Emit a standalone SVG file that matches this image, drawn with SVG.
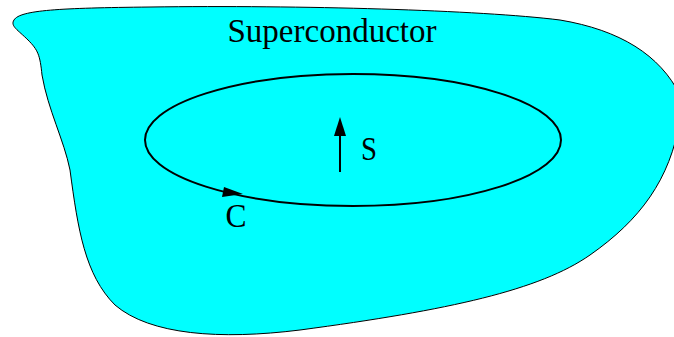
<svg xmlns="http://www.w3.org/2000/svg" width="674" height="337" viewBox="0 0 674 337">
<style>
.lbl{font-family:"Liberation Serif","Times New Roman",serif;fill:#000}
.ln{fill:none;stroke:#000;stroke-width:2}
</style>
<rect width="674" height="337" fill="#fff"/>
<g id="superconductor">
<path d="M14,20 C20,10 60,8 150,7 C300,5 480,10 560,20 C620,30 660,55 680,95 L680,120 C670,180 640,220 590,255 C540,290 450,310 300,330 C220,340 150,335 115,305 C85,275 78,230 70,170 C64,140 48,110 42,75 C40,55 38,50 28,40 C18,30 10,26 14,20 Z" fill="#00ffff" stroke="#000" stroke-width="1"/>
<text class="lbl" x="332" y="42" font-size="33" text-anchor="middle">Superconductor</text>
</g>
<g id="contour">
<ellipse cx="353" cy="140" rx="208" ry="66" class="ln"/>
<polygon points="243,194 224,187 222,197" fill="#000"/>
<text class="lbl" x="236" y="227" font-size="33" text-anchor="middle" textLength="21" lengthAdjust="spacingAndGlyphs">C</text>
</g>
<g id="connectors">
<line x1="340" y1="172" x2="340" y2="132" class="ln"/>
<polygon points="340,117 334,136 346,136" fill="#000"/>
</g>
<g id="surface">
<text class="lbl" x="369" y="160" font-size="33" text-anchor="middle" textLength="16" lengthAdjust="spacingAndGlyphs">S</text>
</g>
</svg>
